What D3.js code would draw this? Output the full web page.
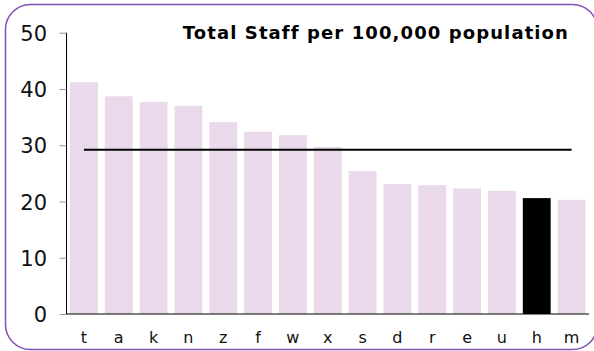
<!DOCTYPE html>
<html>
<head>
<meta charset="utf-8">
<script src="https://cdn.jsdelivr.net/npm/d3@7"></script>
<style>
  html, body { margin: 0; padding: 0; background: #fff; }
  svg { display: block; }
</style>
</head>
<body>
<svg id="chart" width="594" height="351"></svg>
<script>
// Staff per 100,000 population by area, sorted descending
const categories = ["t", "a", "k", "n", "z", "f", "w", "x", "s", "d", "r", "e", "u", "h", "m"];
const values = [41.2, 38.7, 37.7, 37.0, 34.1, 32.4, 31.8, 29.7, 25.4, 23.1, 22.9, 22.3, 21.9, 20.6, 20.3];
const highlighted = ["h"];
const averageValue = [29.2];
const yTicks = [0, 10, 20, 30, 40, 50];
const title = "Total Staff per 100,000 population";

const svg = d3.select("#chart");

// rounded frame
svg.append("rect")
  .attr("x", 5.5).attr("y", 4.5)
  .attr("width", 592).attr("height", 345)
  .attr("rx", 25).attr("ry", 25)
  .attr("fill", "#fff")
  .attr("stroke", "#8150b4")
  .attr("stroke-width", 1.5);

const plot = { left: 66.5, right: 589, top: 32.7, bottom: 314 };

const x = d3.scaleBand()
  .domain(categories)
  .range([plot.left, plot.right])
  .paddingInner(0.2)
  .paddingOuter(0.1);

const y = d3.scaleLinear()
  .domain([0, 50])
  .range([plot.bottom, plot.top]);

// bars
svg.append("g")
  .selectAll("rect")
  .data(categories)
  .join("rect")
  .attr("x", d => x(d))
  .attr("y", (d, i) => y(values[i]))
  .attr("width", x.bandwidth())
  .attr("height", (d, i) => y(0) - y(values[i]))
  .attr("fill", d => highlighted.includes(d) ? "#000" : "#ead9eb");

// y axis with ticks on the left
const yAxis = svg.append("g")
  .attr("transform", `translate(${plot.left},0)`)
  .call(d3.axisLeft(y).tickValues(yTicks).tickSize(7).tickPadding(12.5));
yAxis.select(".domain").attr("stroke", "#000").attr("d", `M0,${plot.top}V${plot.bottom}`);
yAxis.selectAll(".tick line").attr("stroke", "#999");
yAxis.selectAll(".tick text")
  .attr("fill", "#111")
  .attr("dy", "0.36em")
  .style("font-family", "'DejaVu Sans', Verdana, sans-serif")
  .style("font-size", "21px");

// x axis
const xAxis = svg.append("g")
  .attr("transform", `translate(0,${plot.bottom})`)
  .call(d3.axisBottom(x).tickSize(0).tickPadding(17.5));
xAxis.select(".domain").attr("stroke", "#000").attr("d", `M${plot.left},0H${plot.right}`);
xAxis.selectAll(".tick text")
  .attr("fill", "#111")
  .style("font-family", "'DejaVu Sans', Verdana, sans-serif")
  .style("font-size", "16px");

// average line across the bars
svg.append("line")
  .datum(averageValue[0])
  .attr("x1", x(categories[0]) + x.bandwidth() / 2)
  .attr("x2", x(categories[categories.length - 1]) + x.bandwidth() / 2)
  .attr("y1", d => y(d))
  .attr("y2", d => y(d))
  .attr("stroke", "#000")
  .attr("stroke-width", 2);

// title
svg.append("text")
  .attr("x", 569)
  .attr("y", 38.5)
  .attr("text-anchor", "end")
  .style("font-family", "'DejaVu Sans', Verdana, sans-serif")
  .style("font-weight", "bold")
  .style("font-size", "18px")
  .style("letter-spacing", "1.1px")
  .attr("fill", "#000")
  .text(title);
</script>
</body>
</html>
